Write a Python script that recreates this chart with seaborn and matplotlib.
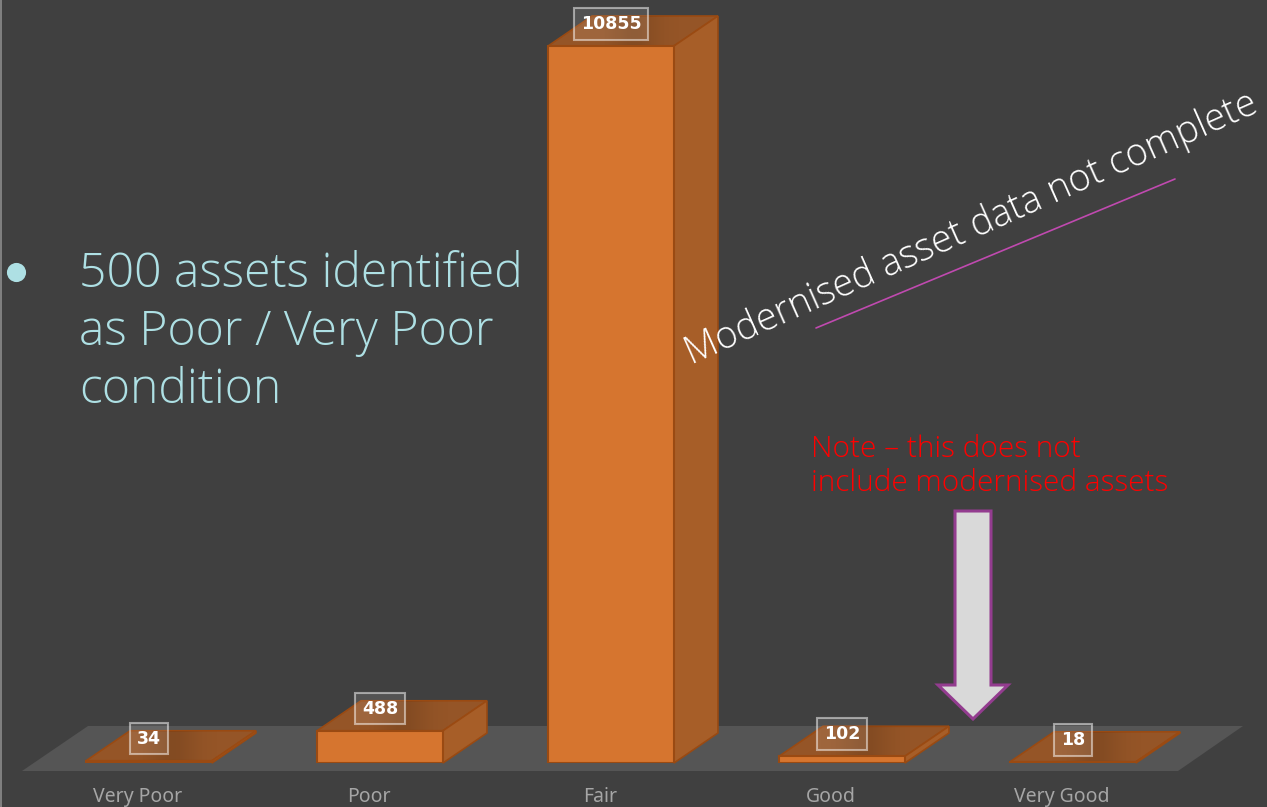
import matplotlib
matplotlib.use('Agg')
import matplotlib.pyplot as plt
from matplotlib.patches import Polygon
from matplotlib.transforms import ScaledTranslation
import numpy as np
import seaborn as sns

categories = ['Very Poor', 'Poor', 'Fair', 'Good', 'Very Good']
values = [34, 488, 10855, 102, 18]

bullet_text = '500 assets identified\nas Poor / Very Poor\ncondition'
note_text = 'Note – this does not\ninclude modernised assets'
side_text = 'Modernised asset data not complete'

BG = '#404040'
FRONT = '#d6752f'
SIDE = '#a75e28'
TOP = '#955527'
EDGE = '#9a4a12'

W, H = 1267, 807
sns.set_theme(style='dark')
plt.rcParams['font.family'] = ['Open Sans', 'DejaVu Sans']

fig = plt.figure(figsize=(W / 100, H / 100), dpi=100, facecolor=BG)

# layer behind the bars, in picture pixels
back = fig.add_axes([0, 0, 1, 1], zorder=0)
back.set_xlim(0, W)
back.set_ylim(H, 0)
back.axis('off')
back.add_patch(Polygon([(22, 771), (1178, 771), (1243, 726), (88, 726)],
                       fc='#555555', ec='none'))
back.plot([1, 1], [0, H], color='#8c8c8c', lw=1.2)

# bars: 231 px per category, 717 px for the tallest bar
ax = fig.add_axes([33.5 / W, (H - 763) / H, 1155 / W, 763 / H], zorder=1)
ax.patch.set_alpha(0)
ymax = 10855 * 763 / 717
sns.barplot(x=categories, y=values, color=FRONT, saturation=1, width=0.545,
            edgecolor=EDGE, linewidth=1.5, ax=ax, zorder=3)
ax.set_yticks([])
ax.set_ylabel('')
ax.set_xlabel('')
ax.grid(False)
sns.despine(ax=ax, left=True, bottom=True)
ax.tick_params(axis='x', length=0, pad=17, labelsize=14, labelcolor='#a6a6a6')
shift = ScaledTranslation(-11 / 100, 0, fig.dpi_scale_trans)
for lab in ax.get_xticklabels():
    lab.set_transform(lab.get_transform() + shift)
    lab.set_family(['Noto Sans', 'DejaVu Sans'])

# depth of the 3d look
dx = 44 / 231
dy = 30 * ymax / 763
shade_x = np.linspace(-1, 1, 120)
shade = np.zeros((1, 120, 4))
shade[..., 3] = 0.12 * np.exp(-(shade_x / 0.35) ** 2)
for bar, val in zip(ax.patches, values):
    x0 = bar.get_x()
    x1 = x0 + bar.get_width()
    h = bar.get_height()
    top_face = Polygon([(x0, h), (x1, h), (x1 + dx, h + dy), (x0 + dx, h + dy)],
                       fc=TOP, ec=EDGE, lw=1.2, clip_on=False, zorder=2)
    ax.add_patch(top_face)
    ax.add_patch(Polygon([(x1, 0), (x1 + dx, dy), (x1 + dx, h + dy), (x1, h)],
                         fc=SIDE, ec=EDGE, lw=1.2, clip_on=False, zorder=2))
    # soft shadow the label throws on the top face
    xm = x0 + bar.get_width() / 2 + 0.1
    im = ax.imshow(shade, extent=(xm - 0.3, xm + 0.3, h, h + dy), aspect='auto',
                   zorder=2.5, clip_on=True)
    im.set_clip_path(top_face)
    ax.annotate(str(val), (x0 + bar.get_width() / 2, h), xytext=(0, 16),
                textcoords='offset points', ha='center', va='center',
                color='white', fontsize=12.5, fontweight='bold',
                family=['DejaVu Sans'], zorder=5, annotation_clip=False,
                bbox=dict(boxstyle='square,pad=0.4', fc=(1, 1, 1, 0.1),
                          ec=(1, 1, 1, 0.5), lw=1.5))
ax.set_xlim(-0.5, 4.5)
ax.set_ylim(0, ymax)

# texts and arrow on top, in picture pixels
front = fig.add_axes([0, 0, 1, 1], zorder=2)
front.set_xlim(0, W)
front.set_ylim(H, 0)
front.axis('off')

front.text(79, 333, bullet_text, color='#aee0e4', fontsize=34.7, fontweight=300,
           va='center', ha='left', linespacing=1.265, clip_on=False)
front.scatter([16], [272], s=190, color='#aee0e4', linewidths=0)
front.text(811, 466, note_text, color='#ff0000', fontsize=21.4, fontweight=300,
           va='center', ha='left', linespacing=1.2)
front.text(971.5, 229, side_text, color='white', fontsize=27.2, fontweight=300,
           rotation=24, rotation_mode='anchor', va='center', ha='center')
front.plot([816, 1175], [328, 179], color='#c04ab0', lw=1.2)
front.add_patch(Polygon([(955, 511), (991, 511), (991, 685), (1008, 685), (973, 719),
                         (938, 685), (955, 685)], fc='#d9d9d9', ec='#933c8f', lw=2.2))

fig.savefig('out.png', dpi=100, facecolor=BG)
